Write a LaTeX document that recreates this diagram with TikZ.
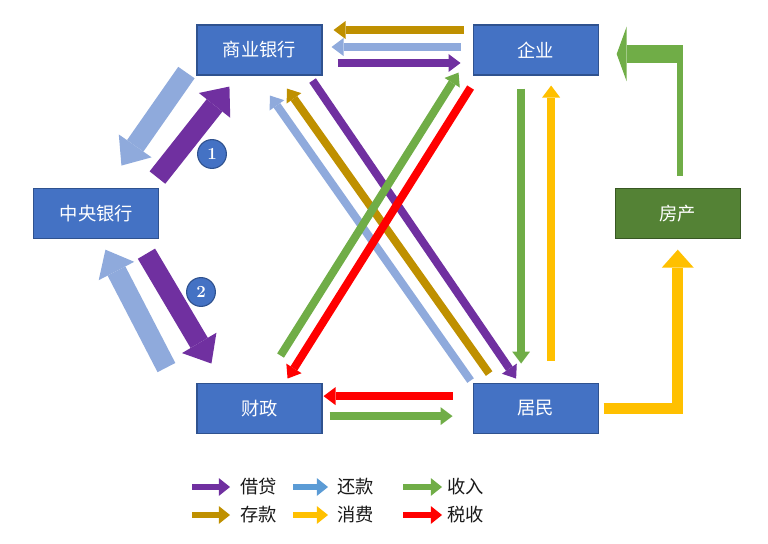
\documentclass[tikz,border=0pt]{standalone}
\usepackage{fontspec}
\newfontfamily\cjk{Noto Sans CJK SC}
\usepackage{xcolor}
\usepackage{tikz}
\usetikzlibrary{arrows.meta, positioning, calc}

\definecolor{boxblue}{HTML}{4472C4}
\definecolor{boxedge}{HTML}{2F528F}
\definecolor{housegreen}{HTML}{548235}
\definecolor{houseedge}{HTML}{385723}
\definecolor{loancol}{HTML}{7030A0}
\definecolor{depositcol}{HTML}{BF9000}
\definecolor{repaycol}{HTML}{8FAADC}
\definecolor{repaykey}{HTML}{5B9BD5}
\definecolor{incomecol}{HTML}{70AD47}
\definecolor{consumecol}{HTML}{FFC000}
\definecolor{taxcol}{HTML}{FF0000}

\begin{document}
\begin{tikzpicture}[
    node distance=1.5cm and 2.5cm,
    font=\cjk\fontsize{13}{15}\selectfont,
    box/.style={draw=boxedge, fill=boxblue, line width=0.8pt, text=white, minimum width=3.125cm, minimum height=1.25cm},
    housebox/.style={box, draw=houseedge, fill=housegreen},
    badge/.style={circle, draw=boxedge, fill=boxblue, line width=0.8pt, text=white, minimum size=0.72cm, inner sep=0pt, font=\normalfont\bfseries\large},
    legend/.style={inner sep=0pt, text=black!90},
    flow/.style={line width=0.2cm, -{Triangle[length=0.3cm, width=0.45cm, line width=0pt]}},
    bigflow/.style={line width=0.5cm, -{Triangle[length=0.6cm, width=1cm, line width=0pt]}},
    legflow/.style={line width=0.17cm, -{Triangle[length=0.28cm, width=0.45cm, line width=0pt]}},
    loan/.style={color=loancol},
    deposit/.style={color=depositcol},
    repay/.style={color=repaycol},
    income/.style={color=incomecol},
    consume/.style={color=consumecol},
    tax/.style={color=taxcol}
]
\useasboundingbox (0,0) rectangle (19.2,-13.6);

% Boxes
\node[box] (bank) at (6.4875,-1.25) {商业银行};
\node[box, right=3.75cm of bank] (firm) {企业};
\node[box, below=7.675cm of bank] (fiscal) {财政};
\node[box, right=3.75cm of fiscal] (household) {居民};
\node[box, below left=2.8cm and 0.925cm of bank] (central) {中央银行};
\node[housebox, below right=2.8cm and 0.4cm of firm] (house) {房产};

% Badges
\node[badge] (one) at (5.3,-3.85) {1};
\node[badge] (two) at (5.025,-7.3) {2};

% Connections
% Firm <-> Bank
\draw[flow, deposit] ([shift={(-0.225,0.5)}]firm.west) -- ([shift={(0.275,0.5)}]bank.east);
\draw[flow, repay] ([shift={(-0.3,0.075)}]firm.west) -- ([shift={(0.225,0.075)}]bank.east);
\draw[flow, loan] ([shift={(0.375,-0.325)}]bank.east) -- ([shift={(-0.3,-0.325)}]firm.west);

% Central bank <-> Bank, Fiscal
\draw[bigflow, repay] ([shift={(-0.25,0.075)}]bank.south west) -- ([shift={(-0.95,0.55)}]central.north east);
\draw[bigflow, loan] ([shift={(-0.05,0.25)}]central.north east) -- ([shift={(0.825,-0.275)}]bank.south west);
\draw[bigflow, repay] ([shift={(-0.75,0.375)}]fiscal.north west) -- ([shift={(-1.35,-0.275)}]central.south east);
\draw[bigflow, loan] ([shift={(-0.325,-0.375)}]central.south east) -- ([shift={(0.375,0.475)}]fiscal.north west);

% Bank <-> Household
\draw[flow, loan] ([shift={(-0.25,-0.125)}]bank.south east) -- ([shift={(-0.4875,0.1)}]household.north);
\draw[flow, deposit] ([shift={(-1.1625,0.225)}]household.north) -- ([shift={(0.6875,-0.325)}]bank.south);
\draw[flow, repay] ([shift={(-0.05,0.05)}]household.north west) -- ([shift={(0.2625,-0.5)}]bank.south);

% Fiscal <-> Firm
\draw[flow, income] ([shift={(-1.05,0.675)}]fiscal.north east) -- ([shift={(-0.35,0.075)}]firm.south west);
\draw[flow, tax] ([shift={(-0.05,-0.3)}]firm.south west) -- ([shift={(-0.875,0.1)}]fiscal.north east);

% Firm <-> Household
\draw[flow, income] ([shift={(-0.3625,-0.325)}]firm.south) -- ([shift={(-0.3625,0.475)}]household.north);
\draw[flow, consume] ([shift={(0.3875,0.55)}]household.north) -- ([shift={(0.3875,-0.25)}]firm.south);

% Household <-> Fiscal
\draw[flow, tax] ([shift={(-0.5,0.3)}]household.west) -- ([shift={(0.025,0.3)}]fiscal.east);
\draw[flow, income] ([shift={(0.175,-0.2)}]fiscal.east) -- ([shift={(-0.5,-0.2)}]household.west);

% Household -> House -> Firm
\draw[consume, line width=0.28cm, -{Triangle[length=0.45cm, width=0.8cm, line width=0pt]}] ([xshift=0.125cm]household.east) -| ([yshift=-0.275cm]house.south);
\coordinate (bend) at ($(house.north |- firm.east)+(0.05,-0.1)$);
\draw[income, line width=0.15cm] ([shift={(0.05,0.3)}]house.north) -- ([yshift=0.225cm]bend);
\draw[income, line width=0.45cm, -{Triangle[length=0.25cm, width=1.375cm, line width=0pt]}] ([xshift=0.075cm]bend) -- ([shift={(0.45,-0.1)}]firm.east);

% Legend
\node[legend, anchor=west] (lg-loan) at (6.0,-12.175) {借贷};
\node[legend, anchor=west] (lg-repay) at (8.425,-12.175) {还款};
\node[legend, anchor=west] (lg-income) at (11.175,-12.175) {收入};
\node[legend, anchor=west] (lg-deposit) at (6.0,-12.875) {存款};
\node[legend, anchor=west] (lg-consume) at (8.425,-12.875) {消费};
\node[legend, anchor=west] (lg-tax) at (11.175,-12.875) {税收};
\draw[legflow, loan] ([xshift=-1.2cm]lg-loan.west) -- ([xshift=-0.25cm]lg-loan.west);
\draw[legflow, color=repaykey] ([xshift=-1.1cm]lg-repay.west) -- ([xshift=-0.225cm]lg-repay.west);
\draw[legflow, income] ([xshift=-1.1cm]lg-income.west) -- ([xshift=-0.125cm]lg-income.west);
\draw[legflow, deposit] ([xshift=-1.2cm]lg-deposit.west) -- ([xshift=-0.25cm]lg-deposit.west);
\draw[legflow, consume] ([xshift=-1.1cm]lg-consume.west) -- ([xshift=-0.225cm]lg-consume.west);
\draw[legflow, tax] ([xshift=-1.1cm]lg-tax.west) -- ([xshift=-0.125cm]lg-tax.west);

\end{tikzpicture}
\end{document}
